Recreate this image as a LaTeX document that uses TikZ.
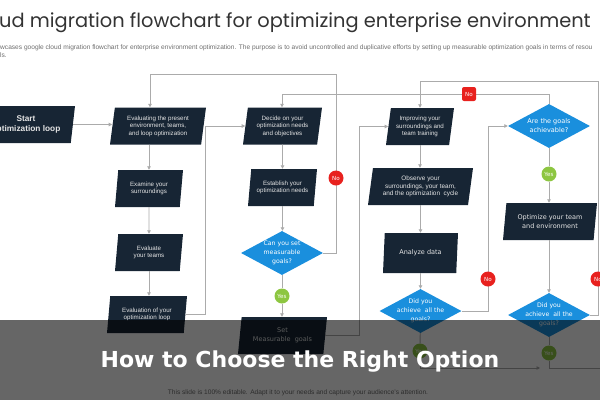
\documentclass[tikz,border=0pt]{standalone}
\usepackage{fontspec}
\setmainfont{Liberation Sans}
\newfontfamily\dejavu{DejaVu Sans}
\newfontfamily\poppins{Poppins}
\usetikzlibrary{arrows.meta,shapes.geometric}
\definecolor{flownavy}{HTML}{172534}
\definecolor{flowblue}{HTML}{1A8FDD}
\definecolor{flowgreen}{HTML}{8DC641}
\definecolor{flowred}{HTML}{E8211E}
\definecolor{flowline}{HTML}{ABABAB}
\definecolor{flowtitle}{HTML}{333333}
\definecolor{flownote}{HTML}{6E6E6E}

\begin{document}
\begin{tikzpicture}[
  x=1pt,y=-1pt,
  task/.style={trapezium,trapezium left angle=78,trapezium right angle=102,
    trapezium stretches body,fill=flownavy,text=white!90!black,
    inner xsep=1pt,inner ysep=1pt,minimum height=37pt,align=center,
    font=\fontsize{6.2}{7.6}\selectfont},
  query/.style={diamond,fill=flowblue,text=white,align=center,
    inner xsep=-5pt,inner ysep=-3pt,aspect=1.86,
    minimum width=82pt,minimum height=44pt,
    font=\dejavu\fontsize{6.2}{9}\selectfont},
  yesdot/.style={circle,fill=flowgreen,text=white,inner sep=0pt,
    minimum size=15pt,font=\dejavu\fontsize{5.6}{6}\selectfont},
  nodot/.style={circle,fill=flowred,text=white,inner sep=0pt,
    minimum size=15pt,font=\dejavu\fontsize{5.6}{6}\selectfont},
  nobox/.style={rectangle,rounded corners=2pt,fill=flowred,text=white,
    inner sep=0pt,minimum size=14pt,font=\dejavu\fontsize{5.6}{6}\selectfont},
  wire/.style={-{Triangle[length=3.5pt,width=3.5pt]},draw=flowline,line width=0.9pt},
  link/.style={draw=flowline,line width=0.9pt},
  dvtask/.style={font=\dejavu\fontsize{6.5}{9}\selectfont},
]
  \useasboundingbox (0,0) rectangle (600,400);
  \clip (0,0) rectangle (600,400);

  % Slide heading, cropped at both sides like the source slide.
  \node[anchor=base west,inner sep=0pt,text=flowtitle,
    font=\poppins\fontsize{19.4}{22}\selectfont] (title) at (-1,27)
    {ud migration flowchart for optimizing enterprise environment};
  \node[anchor=base west,inner sep=0pt,text=flownote,
    font=\fontsize{6.6}{7}\selectfont] (lede) at (0,49.5)
    {wcases google cloud migration flowchart for enterprise environment optimization. The purpose is to avoid uncontrolled and duplicative efforts by setting up measurable optimization goals in terms of resou};
  \node[anchor=base west,inner sep=0pt,text=flownote,
    font=\fontsize{6.6}{7}\selectfont] (ledetail) at (0,57) {ls.};

  \node[task,minimum width=98pt,font=\bfseries\fontsize{8.3}{10.5}\selectfont]
    (start) at (26,124.5) {Start\\optimization loop};

  % First column: evaluate the present state.
  \node[task,minimum width=96pt] (ev) at (158,126)
    {Evaluating the present\\environment, teams,\\and loop optimization};
  \node[task,minimum width=68pt] (exam) at (149,188.5) {Examine your\\surroundings};
  \node[task,minimum width=68pt] (evt) at (149,252.5) {Evaluate\\your teams};
  \node[task,minimum width=80pt] (evl) at (147,314.5) {Evaluation of your\\optimization loop};

  % Second column: needs and goals.
  \node[task,minimum width=79pt] (dec) at (282.5,126)
    {Decide on your\\optimization needs\\and objectives};
  \node[task,minimum width=69pt] (est) at (282.5,187.5) {Establish your\\optimization needs};
  \node[query] (canset) at (282,253) {Can you set\\measurable\\goals?};
  \node[yesdot] (yesA) at (282,296) {Yes};
  \node[task,dvtask,minimum width=89pt] (setm) at (282.5,335.5) {Set\\Measurable\ \ goals};

  % Third column: improve and measure.
  \node[task,minimum width=68pt] (imp) at (420,126.5)
    {Improving your\\surroundings and\\team training};
  \node[task,minimum width=105pt,font=\fontsize{6.4}{7.7}\selectfont] (obs) at (420.5,186.5)
    {Observe your\\surroundings, your team,\\and the optimization\ \ cycle};
  \node[task,dvtask,minimum width=75pt,minimum height=40pt] (ana) at (420.5,253) {Analyze data};
  \node[query] (didA) at (420.5,311) {Did you\\achieve\ \ all the\\goals?};
  \node[yesdot] (yesB) at (420,351) {Yes};

  % Fourth column: optimize.
  \node[query,font=\dejavu\fontsize{6.5}{9}\selectfont] (are) at (549,126)
    {Are the goals\\achievable?};
  \node[yesdot] (yesC) at (549,174) {Yes};
  \node[task,dvtask,minimum width=94pt] (opt) at (550,221.5) {Optimize your team\\and environment};
  \node[query] (didB) at (549,315) {Did you\\achieve\ \ all the\\goals?};
  \node[yesdot] (yesD) at (549,353) {Yes};

  \coordinate (loopC) at (336,74);
  \coordinate (evtop) at (150,74);
  \coordinate (topB) at (282,94);
  \coordinate (rimA) at (598,81);
  \coordinate (colD) at (205,126);
  \coordinate (colE) at (359,126.5);
  \coordinate (colF) at (488,126);
  \coordinate (join) at (549,368);
  \coordinate (exit) at (604,368);

  \draw[wire] (start.east) -- (start.east -| ev.west);
  \draw[wire] (ev.south -| exam.north) -- (exam.north);
  \draw[wire] (exam.south) -- (evt.north);
  \draw[wire] (evt.south) -- (evt.south |- evl.north);
  \draw[wire] (evl.east) -| (colD) -- (colD -| dec.west);

  \draw[wire] (dec.south) -- (est.north);
  \draw[wire] (est.south) -- (est.south |- canset.north);
  \draw[link] (canset) -- (yesA);
  \draw[wire] (yesA) -- (yesA |- setm.north);
  \draw[link] (canset.east) -| (loopC) -- (evtop);
  \draw[wire] (evtop) -- (evtop |- ev.north);
  \draw[wire] (setm.east) -| (colE) -- (colE -| imp.west);

  \draw[wire] (imp.south) -- (imp.south |- obs.north);
  \draw[wire] (obs.south) -- (obs.south |- ana.north);
  \draw[wire] (ana.south) -- (ana.south |- didA.north);
  \draw[link] (didA) -- (yesB);
  \draw[wire,shorten >=9pt] (yesB) |- (join);
  \draw[wire] (didA.east) -| (colF) -- (are.west);

  \draw[link] (are) -- (yesC);
  \draw[wire] (yesC) -- (yesC |- opt.north);
  \draw[wire] (opt.south -| didB.north) -- (didB.north);
  \draw[link] (didB) -- (yesD);
  \draw[link] (yesD) -- (join) -- (exit);
  \draw[wire] (are.north) |- (topB) -- (topB |- dec.north);
  \draw[link] (didB.east) -| (rimA);
  \draw[wire] (rimA) -| (imp.north);

  % Loop-back markers sit on top of their wires.
  \node[nodot] (noA) at (336,178) {No};
  \node[nobox] (noB) at (469,94) {No};
  \node[nodot] (noC) at (488,279) {No};
  \node[nodot] (noD) at (598,279) {No};

  \node[text=flownote,font=\fontsize{6.6}{7}\selectfont] (slidenote) at (298,393)
    {This slide is 100\% editable. Adapt it to your needs and capture your audience's attention.};

  % Caption band over the lower part of the slide.
  \fill[black,opacity=.6] (0,320) rectangle (600,400);
  \node[text=white,font=\dejavu\bfseries\fontsize{22}{26}\selectfont] (banner) at (300,362)
    {How to Choose the Right Option};
\end{tikzpicture}
\end{document}
